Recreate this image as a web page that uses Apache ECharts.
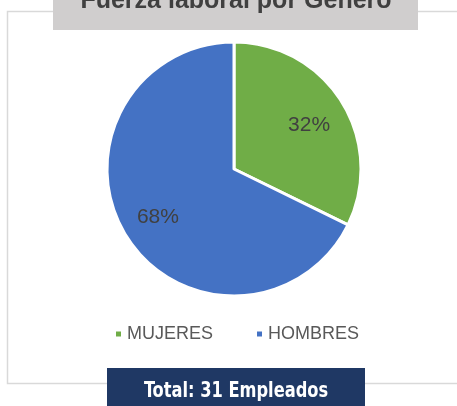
<!DOCTYPE html>
<html>
<head>
<meta charset="utf-8">
<script src="https://cdn.jsdelivr.net/npm/echarts@6/dist/echarts.min.js"></script>
<style>
  html, body { margin: 0; padding: 0; background: #fff; }
  #chart { width: 457px; height: 406px; }
</style>
</head>
<body>
<div id="chart"></div>
<script>
var categories = ['MUJERES', 'HOMBRES'];
var values = [10, 21];
var colors = ['#70ad47', '#4472c4'];
var titleText = 'Fuerza laboral por Género';
var totalText = 'Total: 31 Empleados';

var myChart = echarts.init(document.getElementById('chart'));

var pieData = categories.map(function (name, i) {
    return { value: values[i], name: name, itemStyle: { color: colors[i] } };
});

var option = {
    animation: false,
    legend: {
        data: categories,
        left: 109,
        top: 320,
        icon: 'rect',
        itemWidth: 7,
        itemHeight: 7,
        itemGap: 42,
        textStyle: { color: '#595959', fontSize: 18, fontFamily: 'Liberation Sans, Arial, sans-serif' }
    },
    graphic: [
        {
            type: 'rect', z: -10,
            shape: { x: 7.5, y: 11.5, width: 470, height: 372 },
            style: { fill: '#fff', stroke: '#d9d9d9', lineWidth: 1.5 }
        },
        {
            type: 'rect', z: 10,
            shape: { x: 53, y: 0, width: 365, height: 30 },
            style: { fill: '#d0cece' }
        },
        {
            type: 'text', z: 11,
            x: 236, y: 14,
            style: {
                text: titleText, fill: '#404040',
                font: 'bold 25px "Liberation Sans", Arial, sans-serif',
                align: 'center', verticalAlign: 'bottom'
            }
        },
        {
            type: 'rect', z: 10,
            shape: { x: 107, y: 368, width: 258, height: 40 },
            style: { fill: '#1f3864' }
        },
        {
            type: 'text', z: 11,
            x: 236, y: 392, scaleX: 0.86,
            style: {
                text: totalText, fill: '#ffffff',
                font: 'bold 21px "DejaVu Sans Condensed", sans-serif',
                align: 'center', verticalAlign: 'middle'
            }
        }
    ],
    series: [
        {
            name: 'Fuerza laboral',
            type: 'pie',
            center: [234, 169],
            radius: [0, 127],
            startAngle: 90,
            clockwise: true,
            label: { show: false },
            labelLine: { show: false },
            itemStyle: { borderColor: '#fff', borderWidth: 3 },
            data: pieData
        },
        {
            name: 'etiquetas',
            type: 'pie',
            silent: true,
            center: [234, 169],
            radius: [51, 127],
            startAngle: 90,
            clockwise: true,
            itemStyle: { color: 'rgba(0,0,0,0)', borderWidth: 0 },
            label: {
                show: true,
                position: 'inside',
                color: '#404040',
                fontSize: 21,
                fontFamily: 'Liberation Sans, Arial, sans-serif',
                formatter: function (p) { return Math.round(p.percent) + '%'; }
            },
            labelLine: { show: false },
            data: [
                { value: values[0], name: categories[0], label: { offset: [-3, 5] } },
                { value: values[1], name: categories[1], label: { offset: [2, 0] } }
            ]
        }
    ]
};

myChart.setOption(option);
</script>
</body>
</html>
